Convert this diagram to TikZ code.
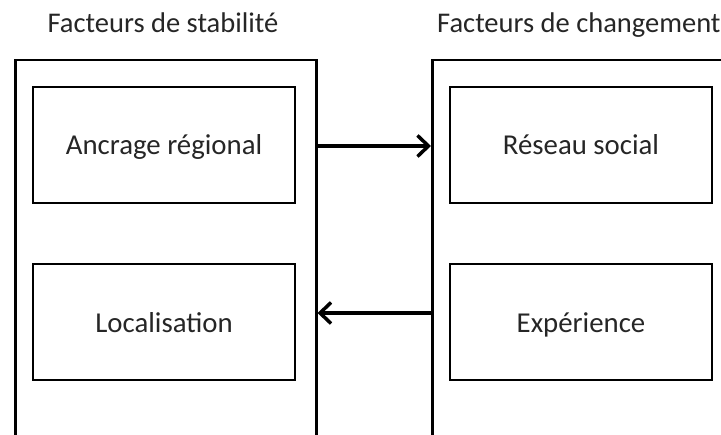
\documentclass[tikz,border=0pt]{standalone}
\usepackage{fontspec}
\setmainfont{Carlito}
\usetikzlibrary{arrows.meta}
\begin{document}
\begin{tikzpicture}[x=1pt,y=-1pt,
  frame/.style={draw=black,line width=2.5pt,rectangle,inner sep=0pt,anchor=north west},
  item/.style={draw=black,line width=2.5pt,rectangle,inner sep=0pt,
    minimum width=262pt,minimum height=116pt,
    font=\fontsize{28.8}{34}\selectfont,text=black!85},
  label text/.style={font=\fontsize{28.8}{34}\selectfont,text=black!85,inner sep=0pt,anchor=base},
  title/.style={font=\fontsize{28.5}{34}\selectfont,text=black!85,inner sep=0pt},
  link/.style={line width=3.5pt,-{Straight Barb[length=11pt,width=21pt,line width=3.5pt]}}]
\useasboundingbox (0,0) rectangle (721,435);
\clip (0,0) rectangle (721,435);
\fill[white] (0,0) rectangle (721,435);

% column frames (run past the lower edge)
\node[frame,minimum width=301pt,minimum height=420pt] (stab) at (14,59) {};
\node[frame,minimum width=320pt,minimum height=420pt] (chg) at (431,59) {};

% column headings
\node[title,anchor=base] (tstab) at (163,33) {Facteurs de stabilité};
\node[title,anchor=base west] (tchg) at (437,33) {Facteurs de changement};

% factor boxes
\node[item] (anc) at (164,145) {};
\node[item] (loc) at (164,322) {};
\node[item] (res) at (581,145) {};
\node[item] (exp) at (581,322) {};

% factor names, set on a common baseline inside each box
\node[label text] (anct) at ([yshift=-10pt]anc.center) {Ancrage régional};
\node[label text] (loct) at ([yshift=-11pt]loc.center) {Localisation};
\node[label text] (rest) at ([yshift=-10pt]res.center) {Réseau social};
\node[label text] (expt) at ([yshift=-11pt]exp.center) {Expérience};

% links between the columns
\coordinate (up) at (0,146);
\coordinate (down) at (0,313);
\draw[link] (up -| stab.east) -- (up -| chg.west);
\draw[link] (down -| chg.west) -- (down -| stab.east);
\end{tikzpicture}
\end{document}
